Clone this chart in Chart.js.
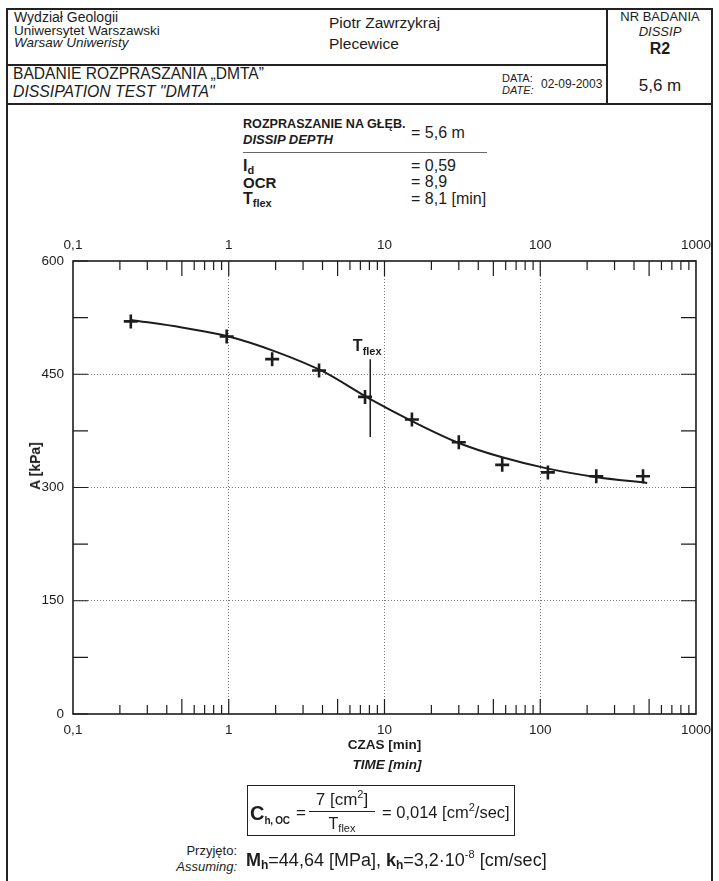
<!DOCTYPE html>
<html lang="pl">
<head>
<meta charset="utf-8">
<title>Badanie rozpraszania DMTA</title>
<script src="https://cdn.jsdelivr.net/npm/chart.js@4.4.1/dist/chart.umd.min.js"></script>
<style>
  html, body { margin: 0; padding: 0; background: #fff; }
  body {
    position: relative; width: 719px; height: 881px; overflow: hidden;
    font-family: "Liberation Sans", Arial, sans-serif; color: #1c1c1c;
  }
  .t { position: absolute; white-space: nowrap; line-height: 1; }
  .b { font-weight: bold; }
  .i { font-style: italic; }
  .ln { position: absolute; background: #222; }
  .sub, .sup { position: relative; line-height: 0; }
  #frame {
    position: absolute; left: 6px; top: 8px; width: 707px; height: 900px;
    box-sizing: border-box; border: 2px solid #222; border-bottom: none;
  }
  #chart { position: absolute; left: 0; top: 225px; }
  #yTitle {
    position: absolute; left: 35px; top: 466px; font-weight: bold; font-size: 14px;
    line-height: 1; white-space: nowrap; transform: translate(-50%, -50%) rotate(-90deg);
  }
</style>
</head>
<body>
<div id="frame"></div>
<div class="ln" style="left:7px;top:64px;width:600px;height:1.5px"></div>
<div class="ln" style="left:7px;top:103px;width:705px;height:2px"></div>
<div class="ln" style="left:606px;top:9px;width:2px;height:95px"></div>

<!-- header -->
<div class="t" data-x="14" data-b="21.5" data-fs="14">Wydział Geologii</div>
<div class="t" data-x="14" data-b="35" data-fs="13.5">Uniwersytet Warszawski</div>
<div class="t i" data-x="14" data-b="47.5" data-fs="13.5">Warsaw Uniweristy</div>
<div class="t" data-x="329" data-b="28.5" data-fs="15.5">Piotr Zawrzykraj</div>
<div class="t" data-x="329" data-b="49" data-fs="15.5">Plecewice</div>
<div class="t" data-x="13" data-b="79" data-fs="15.6">BADANIE ROZPRASZANIA „DMTA”</div>
<div class="t i" data-x="13" data-b="97.5" data-fs="15.8">DISSIPATION TEST "DMTA"</div>
<div class="t" data-x="502" data-b="82" data-fs="11">DATA:</div>
<div class="t i" data-x="502" data-b="94" data-fs="11">DATE:</div>
<div class="t" data-x="541" data-b="88" data-fs="12">02-09-2003</div>
<div class="t" data-x="660" data-b="21" data-fs="13" data-a="c">NR BADANIA</div>
<div class="t i" data-x="660" data-b="36.5" data-fs="13" data-a="c">DISSIP</div>
<div class="t b" data-x="660" data-b="55" data-fs="16" data-a="c">R2</div>
<div class="t" data-x="660" data-b="91.5" data-fs="17" data-a="c">5,6 m</div>

<!-- parameters -->
<div class="t b" data-x="243" data-b="129" data-fs="12.6">ROZPRASZANIE NA GŁĘB.</div>
<div class="t b i" data-x="243" data-b="144.5" data-fs="13">DISSIP DEPTH</div>
<div class="t" data-x="411" data-b="139" data-fs="16">= 5,6 m</div>
<div class="ln" style="left:243px;top:152px;width:244px;height:1px;background:#666"></div>
<div class="t b" data-x="243" data-b="171.5" data-fs="16">I<span class="sub" style="font-size:11px;top:3px">d</span></div>
<div class="t" data-x="411" data-b="171.5" data-fs="16">= 0,59</div>
<div class="t b" data-x="243" data-b="188" data-fs="15">OCR</div>
<div class="t" data-x="411" data-b="188" data-fs="16">= 8,9</div>
<div class="t b" data-x="243" data-b="205" data-fs="16">T<span class="sub" style="font-size:11px;top:3px">flex</span></div>
<div class="t" data-x="411" data-b="205" data-fs="16">= 8,1 [min]</div>

<canvas id="chart" width="719" height="560"></canvas>
<div id="yTitle">A [kPa]</div>
<div class="t b i" data-x="387" data-b="769" data-fs="13.5" data-a="c">TIME [min]</div>

<!-- consolidation coefficient -->
<div style="position:absolute;left:247px;top:785px;width:268px;height:51px;box-sizing:border-box;border:1.2px solid #222"></div>
<div class="t b" data-x="250" data-b="820" data-fs="20">C<span class="sub" style="font-size:10px;top:4px;letter-spacing:-0.3px">h, OC</span></div>
<div class="t" data-x="296" data-b="818" data-fs="17">=</div>
<div class="t" data-x="342" data-b="805" data-fs="17" data-a="c">7 [cm<span class="sup" style="font-size:11px;top:-7px">2</span>]</div>
<div class="ln" style="left:309px;top:810.5px;width:66px;height:1.2px"></div>
<div class="t" data-x="342" data-b="830" data-fs="16" data-a="c">T<span class="sub" style="font-size:11px;top:3px">flex</span></div>
<div class="t" data-x="382" data-b="818" data-fs="16.5">= 0,014 [cm<span class="sup" style="font-size:11px;top:-7px">2</span>/sec]</div>

<div class="t" data-x="237" data-b="855" data-fs="13" data-a="r">Przyjęto:</div>
<div class="t i" data-x="237" data-b="871" data-fs="13" data-a="r">Assuming:</div>
<div class="t" data-x="246" data-b="866" data-fs="18"><b>M<span class="sub" style="font-size:12px;top:3px">h</span></b>=44,64 [MPa], <b>k<span class="sub" style="font-size:12px;top:3px">h</span></b>=3,2·10<span class="sup" style="font-size:11px;top:-8px">-8</span> [cm/sec]</div>

<script>
// measurement points (time in minutes, A in kPa)
const timeMin = [0.235, 0.97, 1.9, 3.8, 7.5, 15, 30, 57, 112, 229, 457];
const aKpa = [520, 500, 470, 455, 420, 390, 360, 330, 320, 315, 315];

// fitted dissipation curve
const fitTime = [0.235, 0.5, 1, 2, 4, 8.1, 15, 30, 57, 112, 226, 486];
const fitA = [522, 512, 500, 480, 454, 417, 388, 359, 340, 325, 314, 306];

// inflection marker
const tFlex = 8.1;
const tFlexSpan = [470, 367];

// axis ticks
const xTicks = [0.1, 1, 10, 100, 1000];
const xDecades = [0.1, 1, 10, 100];
const xMinor = [2, 3, 4, 5, 6, 7, 8, 9];
const yTicks = [0, 150, 300, 450, 600];
const yMarks = [0, 75, 150, 225, 300, 375, 450, 525, 600];

// place the html labels on their baselines
document.querySelectorAll('.t').forEach(el => {
    const fs = parseFloat(el.dataset.fs);
    el.style.fontSize = fs + 'px';
    el.style.left = el.dataset.x + 'px';
    el.style.top = (parseFloat(el.dataset.b) - 0.847 * fs) + 'px';
    if (el.dataset.a === 'c') el.style.transform = 'translateX(-50%)';
    if (el.dataset.a === 'r') el.style.transform = 'translateX(-100%)';
});

const FONT = '"Liberation Sans", Arial, sans-serif';
const INK = '#1c1c1c';
const fmt = v => String(v).replace('.', ',');

// frame, inward tick marks and the Tflex label
const frameTicks = {
    id: 'frameTicks',
    afterDatasetsDraw(chart) {
        const { ctx, chartArea: a, scales: { x, y } } = chart;
        ctx.save();
        ctx.strokeStyle = INK;
        ctx.lineWidth = 1.2;
        ctx.beginPath();
        yMarks.forEach(v => {
            const py = y.getPixelForValue(v);
            ctx.moveTo(a.left, py); ctx.lineTo(a.left + 15, py);
            ctx.moveTo(a.right, py); ctx.lineTo(a.right - 15, py);
        });
        xDecades.forEach(d => {
            xMinor.forEach(m => {
                const px = x.getPixelForValue(d * m);
                const len = m === 5 ? 15 : 9;
                ctx.moveTo(px, a.top); ctx.lineTo(px, a.top + len);
                ctx.moveTo(px, a.bottom); ctx.lineTo(px, a.bottom - len);
            });
        });
        xTicks.slice(1, -1).forEach(v => {
            const px = x.getPixelForValue(v);
            ctx.moveTo(px, a.top); ctx.lineTo(px, a.top + 15);
            ctx.moveTo(px, a.bottom); ctx.lineTo(px, a.bottom - 15);
        });
        ctx.stroke();

        ctx.lineWidth = 1.6;
        ctx.strokeRect(a.left, a.top, a.right - a.left, a.bottom - a.top);

        // Tflex label above the marker line
        const lx = x.getPixelForValue(tFlex);
        const ly = y.getPixelForValue(tFlexSpan[0]);
        ctx.fillStyle = INK;
        ctx.textBaseline = 'alphabetic';
        ctx.font = 'bold 16px ' + FONT;
        const wT = ctx.measureText('T').width;
        ctx.font = 'bold 11px ' + FONT;
        const wF = ctx.measureText('flex').width;
        const sx = lx - 3 - (wT + wF) / 2;
        ctx.font = 'bold 16px ' + FONT;
        ctx.fillText('T', sx, ly - 8);
        ctx.font = 'bold 11px ' + FONT;
        ctx.fillText('flex', sx + wT, ly - 4);
        ctx.restore();
    }
};

const gridColor = (lo, hi) => c => (c.tick && c.tick.value > lo && c.tick.value < hi) ? '#7a7a7a' : 'transparent';

new Chart(document.getElementById('chart'), {
    type: 'scatter',
    data: {
        datasets: [
            {
                label: 'Tflex',
                data: tFlexSpan.map(v => ({ x: tFlex, y: v })),
                showLine: true,
                borderColor: INK,
                borderWidth: 1.5,
                pointRadius: 0,
                order: 3
            },
            {
                label: 'Krzywa',
                data: fitTime.map((t, i) => ({ x: t, y: fitA[i] })),
                showLine: true,
                borderColor: INK,
                borderWidth: 2,
                pointRadius: 0,
                cubicInterpolationMode: 'monotone',
                order: 2
            },
            {
                label: 'Pomiar',
                data: timeMin.map((t, i) => ({ x: t, y: aKpa[i] })),
                showLine: false,
                pointStyle: 'cross',
                pointRadius: 7,
                pointBorderWidth: 2.6,
                pointBorderColor: INK,
                order: 1
            }
        ]
    },
    options: {
        responsive: false,
        animation: false,
        devicePixelRatio: 1,
        layout: { padding: { left: 0, right: 22, top: 0, bottom: 11 } },
        plugins: { legend: { display: false }, tooltip: { enabled: false } },
        scales: {
            x: {
                type: 'logarithmic',
                position: 'bottom',
                min: 0.1,
                max: 1000,
                afterBuildTicks: s => { s.ticks = xTicks.map(v => ({ value: v })); },
                afterFit: s => { s.height = 60; },
                ticks: {
                    callback: v => fmt(v), autoSkip: false, maxRotation: 0,
                    padding: 8, color: INK, font: { family: FONT, size: 13.5 }
                },
                grid: { color: gridColor(0.1, 1000), lineWidth: 1, drawTicks: false },
                border: { display: false, dash: [1, 2] },
                title: {
                    display: true, text: 'CZAS [min]', color: INK,
                    font: { family: FONT, size: 13.5, weight: 'bold' },
                    padding: { top: 0, bottom: 21 }
                }
            },
            x2: {
                type: 'logarithmic',
                position: 'top',
                min: 0.1,
                max: 1000,
                afterBuildTicks: s => { s.ticks = xTicks.map(v => ({ value: v })); },
                afterFit: s => { s.height = 36; },
                ticks: {
                    callback: v => fmt(v), autoSkip: false, maxRotation: 0,
                    padding: 8, color: INK, font: { family: FONT, size: 13.5 }
                },
                grid: { display: false, drawTicks: false },
                border: { display: false }
            },
            y: {
                type: 'linear',
                min: 0,
                max: 600,
                afterBuildTicks: s => { s.ticks = yTicks.map(v => ({ value: v })); },
                afterFit: s => { s.width = 73; },
                ticks: { padding: 9, color: INK, font: { family: FONT, size: 13.5 } },
                grid: { color: gridColor(0, 600), lineWidth: 1, drawTicks: false },
                border: { display: false, dash: [1, 2] }
            }
        }
    },
    plugins: [frameTicks]
});
</script>
</body>
</html>
